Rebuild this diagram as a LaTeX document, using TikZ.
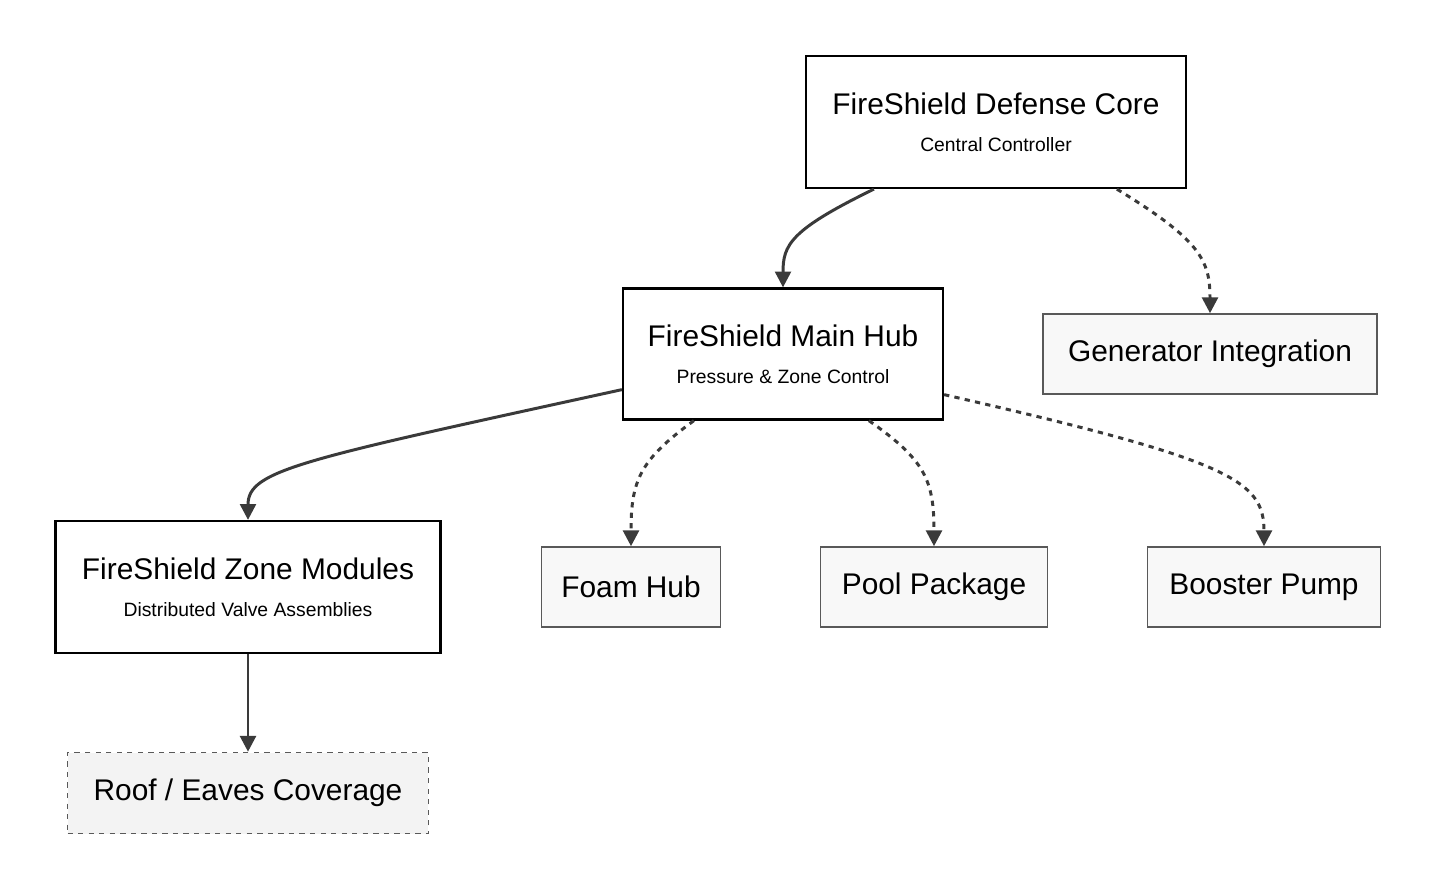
\documentclass[tikz,border=0pt]{standalone}
\usepackage{fontspec}
\setmainfont{Liberation Sans}
\usetikzlibrary{arrows.meta,calc}
\definecolor{edgegray}{HTML}{3A3A3A}
\definecolor{leafgray}{HTML}{F8F8F8}
\definecolor{roofgray}{HTML}{F3F3F3}
\newcommand{\hdr}[2]{{\fontsize{17}{20}\selectfont #1}\\[9pt]{\fontsize{11}{13}\selectfont #2}}
\begin{document}
\begin{tikzpicture}[x=0.02cm,y=-0.02cm,>={Triangle[length=9pt,width=9pt]},
    main node/.style={draw=black,line width=1.3pt,fill=white,align=center,inner sep=0pt},
    leaf node/.style={draw=black!65,line width=0.9pt,fill=leafgray,inner sep=0pt,font=\fontsize{17}{20}\selectfont},
    solid link/.style={->,draw=edgegray,line width=1.7pt},
    dotted link/.style={->,draw=edgegray,line width=1.7pt,dash pattern=on 3pt off 3pt}]
  \useasboundingbox (0,0) rectangle (1436,890);

  \node[main node,minimum width=7.6cm,minimum height=2.64cm] (core) at (996,122) {\hdr{FireShield Defense Core}{Central Controller}};
  \node[main node,minimum width=6.4cm,minimum height=2.62cm] (hub) at (783,354) {\hdr{FireShield Main Hub}{Pressure \& Zone Control}};
  \node[main node,minimum width=7.7cm,minimum height=2.64cm] (zone) at (248,587) {\hdr{FireShield Zone Modules}{Distributed Valve Assemblies}};
  \node[leaf node,minimum width=6.68cm,minimum height=1.6cm] (gen) at (1210,354) {Generator Integration};
  \node[leaf node,minimum width=3.58cm,minimum height=1.6cm] (foam) at (631,587) {Foam Hub};
  \node[leaf node,minimum width=4.54cm,minimum height=1.6cm] (pool) at (934,587) {Pool Package};
  \node[leaf node,minimum width=4.66cm,minimum height=1.6cm] (boost) at (1264,587) {Booster Pump};
  \node[leaf node,dashed,fill=roofgray,minimum width=7.22cm,minimum height=1.62cm] (roof) at (248,793) {Roof / Eaves Coverage};

  % connectors
  \draw[solid link] ($(core.south west)+(69,0)$) .. controls (790,230) and (783,245) .. (hub.north);
  \draw[dotted link] ($(core.south west)+(312,0)$) .. controls (1200,240) and (1210,260) .. (gen.north);
  \draw[solid link] ($(hub.south west)+(0,-31)$) .. controls (300,460) and (248,470) .. (zone.north);
  \draw[dotted link] ($(hub.south west)+(72,0)$) .. controls (640,460) and (631,480) .. (foam.north);
  \draw[dotted link] ($(hub.south west)+(247,0)$) .. controls (925,460) and (934,480) .. (pool.north);
  \draw[dotted link] ($(hub.south east)+(0,-26)$) .. controls (1230,460) and (1264,480) .. (boost.north);
  \draw[solid link] (zone) -- (roof);
\end{tikzpicture}
\end{document}
